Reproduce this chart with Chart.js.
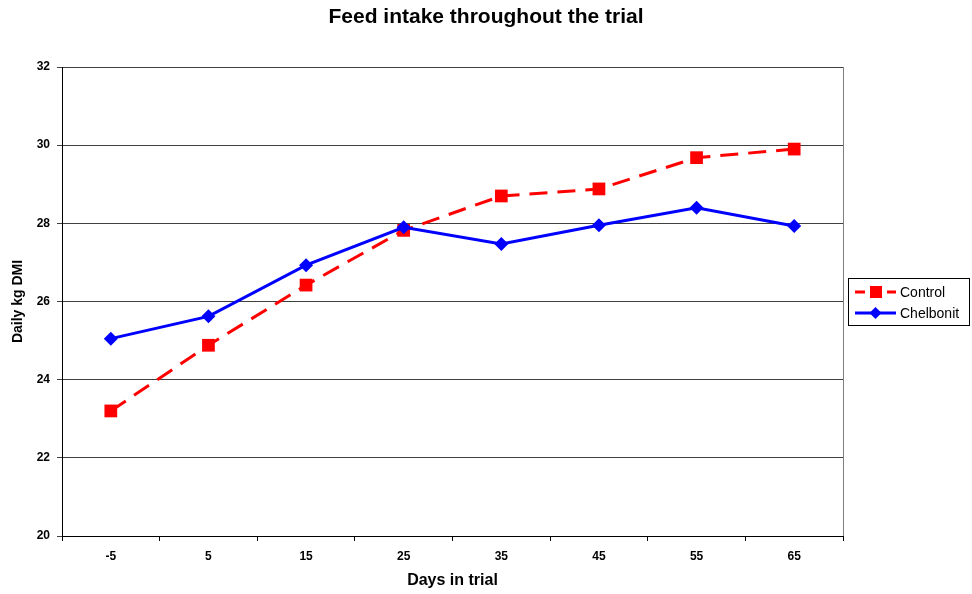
<!DOCTYPE html>
<html>
<head>
<meta charset="utf-8">
<title>Feed intake throughout the trial</title>
<script src="https://cdn.jsdelivr.net/npm/chart.js@4/dist/chart.umd.min.js"></script>
<style>
    html, body { margin: 0; padding: 0; background: #fff; }
    #wrap { width: 972px; height: 594px; }
</style>
</head>
<body>
<div id="wrap"><canvas id="feedChart" width="972" height="594"></canvas></div>
<script>
    // Days in trial
    const days = ['-5', '5', '15', '25', '35', '45', '55', '65'];
    // Daily kg DMI per group
    const control = [23.2, 24.88, 26.42, 27.82, 28.7, 28.88, 29.68, 29.9];
    const chelbonit = [25.05, 25.62, 26.93, 27.9, 27.47, 27.95, 28.4, 27.93];
    const yTicks = [20, 22, 24, 26, 28, 30, 32];
    const chartTitle = 'Feed intake throughout the trial';

    const FONT = 'Arial, "Liberation Sans", sans-serif';

    // title centred on the whole canvas, right plot border and the boxed legend
    const frameAndLegend = {
        id: 'frameAndLegend',
        afterDraw(chart) {
            const { ctx, chartArea } = chart;
            ctx.save();
            ctx.fillStyle = '#000';
            ctx.font = 'bold 21px ' + FONT;
            ctx.textAlign = 'center';
            ctx.textBaseline = 'middle';
            ctx.fillText(chartTitle, chart.width / 2, 17);

            ctx.strokeStyle = '#808080';
            ctx.lineWidth = 1;
            ctx.beginPath();
            ctx.moveTo(Math.round(chartArea.right) + 0.5, chartArea.top);
            ctx.lineTo(Math.round(chartArea.right) + 0.5, chartArea.bottom);
            ctx.stroke();

            // legend box
            const bx = 848.5, by = 278.5, bw = 121, bh = 47;
            ctx.strokeStyle = '#000';
            ctx.strokeRect(bx, by, bw, bh);

            const items = [chart.data.datasets[1], chart.data.datasets[0]];
            ctx.textAlign = 'left';
            items.forEach((ds, i) => {
                const y = 292 + i * 21;
                ctx.strokeStyle = ds.borderColor;
                ctx.lineWidth = ds.borderWidth;
                ctx.setLineDash(ds.borderDash ? [10, 6] : []);
                ctx.beginPath();
                ctx.moveTo(855, y);
                ctx.lineTo(896, y);
                ctx.stroke();
                ctx.setLineDash([]);
                ctx.fillStyle = ds.pointBackgroundColor;
                ctx.beginPath();
                if (ds.pointStyle === 'rect') {
                    ctx.rect(870, y - 6, 12, 12);
                } else {
                    ctx.moveTo(875.5, y - 6);
                    ctx.lineTo(881.5, y);
                    ctx.lineTo(875.5, y + 6);
                    ctx.lineTo(869.5, y);
                    ctx.closePath();
                }
                ctx.fill();
                ctx.fillStyle = '#000';
                ctx.font = '14px ' + FONT;
                ctx.fillText(ds.label, 900, y + 1);
            });
            ctx.restore();
        }
    };

    const ctx = document.getElementById('feedChart').getContext('2d');
    new Chart(ctx, {
        type: 'line',
        data: {
            labels: days,
            datasets: [{
                label: 'Chelbonit',
                data: chelbonit,
                borderColor: '#0000FF',
                backgroundColor: '#0000FF',
                pointBackgroundColor: '#0000FF',
                pointBorderColor: '#0000FF',
                borderWidth: 3,
                pointStyle: 'rectRot',
                pointRadius: 7,
                pointBorderWidth: 0,
                tension: 0
            }, {
                label: 'Control',
                data: control,
                borderColor: '#FF0000',
                backgroundColor: '#FF0000',
                pointBackgroundColor: '#FF0000',
                pointBorderColor: '#FF0000',
                borderWidth: 3,
                borderDash: [18, 10],
                pointStyle: 'rect',
                pointRadius: 9,
                pointBorderWidth: 0,
                tension: 0
            }]
        },
        options: {
            responsive: false,
            animation: false,
            events: [],
            layout: { padding: { left: 0, right: 129, top: 67, bottom: 0 } },
            plugins: {
                legend: { display: false },
                tooltip: { enabled: false },
                title: { display: false }
            },
            scales: {
                x: {
                    offset: true,
                    grid: {
                        offset: true,
                        drawOnChartArea: false,
                        drawTicks: true,
                        tickLength: 5,
                        color: '#000'
                    },
                    border: { display: true, color: '#000', width: 1 },
                    ticks: {
                        color: '#000',
                        padding: 8,
                        maxRotation: 0,
                        font: { family: FONT, size: 12, weight: 'bold' }
                    },
                    title: {
                        display: true,
                        text: 'Days in trial',
                        color: '#000',
                        font: { family: FONT, size: 16, weight: 'bold' },
                        padding: { top: 0, bottom: 4 }
                    },
                    afterFit(scale) { scale.height = 58; }
                },
                y: {
                    min: 20,
                    max: 32,
                    afterBuildTicks(scale) {
                        scale.ticks = yTicks.map(v => ({ value: v }));
                    },
                    grid: {
                        color: '#404040',
                        tickLength: 5,
                        drawTicks: true
                    },
                    border: { display: true, color: '#000', width: 1 },
                    ticks: {
                        color: '#000',
                        padding: 7,
                        font: { family: FONT, size: 12, weight: 'bold' }
                    },
                    title: {
                        display: true,
                        text: 'Daily kg DMI',
                        color: '#000',
                        font: { family: FONT, size: 14, weight: 'bold' },
                        padding: { top: 10, bottom: 0 }
                    },
                    afterFit(scale) { scale.width = 62; }
                }
            }
        },
        plugins: [frameAndLegend]
    });
</script>
</body>
</html>
